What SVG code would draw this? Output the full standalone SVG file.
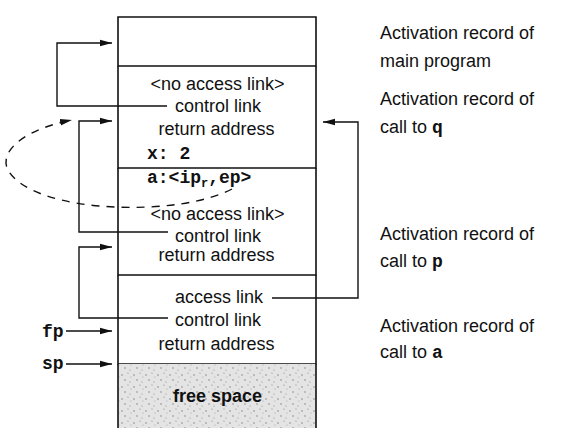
<svg xmlns="http://www.w3.org/2000/svg" width="562" height="440" viewBox="0 0 562 440">
<style>
.box{fill:none;stroke:#111;stroke-width:1.6}
.lbl{font-family:"Liberation Sans",Arial,sans-serif;font-size:18px;fill:#111}
.mid{text-anchor:middle}
.code{font-family:"Liberation Mono","Courier New",monospace;font-weight:bold;font-size:18px;fill:#111}
.con{fill:none;stroke:#111;stroke-width:1.4}
.dash{fill:none;stroke:#111;stroke-width:1.4;stroke-dasharray:8 7}
</style>
<defs>
<marker id="ah" markerUnits="userSpaceOnUse" markerWidth="12" markerHeight="8" refX="12" refY="4" orient="auto">
<path d="M0,0.8 L12,4 L0,7.2 z" fill="#111"/>
</marker>
<pattern id="stip" width="12" height="12" patternUnits="userSpaceOnUse">
<rect width="12" height="12" fill="#e4e4e4"/>
<circle cx="2" cy="3" r="0.7" fill="#777"/>
<circle cx="8" cy="1" r="0.6" fill="#888"/>
<circle cx="5" cy="8" r="0.7" fill="#777"/>
<circle cx="10" cy="10" r="0.6" fill="#888"/>
<circle cx="11" cy="5" r="0.5" fill="#999"/>
</pattern>
</defs>
<rect width="562" height="440" fill="#fff"/>

<g id="main-record">
<path class="box" d="M118,17 H316 V66 H118 Z"/>
<text class="lbl" x="380" y="39">Activation record of</text>
<text class="lbl" x="380" y="67">main program</text>
</g>

<g id="q-record">
<path class="box" d="M118,66 V168 H316 V66"/>
<text class="lbl mid" x="217.5" y="90">&lt;no access link&gt;</text>
<text class="lbl mid" x="218" y="112">control link</text>
<text class="lbl mid" x="216.5" y="135">return address</text>
<text class="code" x="147" y="159">x: 2</text>
<text class="lbl" x="380" y="105">Activation record of</text>
<text class="lbl" x="380" y="133">call to <tspan class="code">q</tspan></text>
</g>

<g id="p-record">
<path class="box" d="M118,168 V275 H316 V168"/>
<text class="code" x="147" y="183">a:&lt;ip<tspan font-size="12" dy="4">r</tspan><tspan dy="-4">,ep&gt;</tspan></text>
<text class="lbl mid" x="217.5" y="220">&lt;no access link&gt;</text>
<text class="lbl mid" x="218" y="242">control link</text>
<text class="lbl mid" x="216.5" y="261">return address</text>
<text class="lbl" x="380" y="240">Activation record of</text>
<text class="lbl" x="380" y="267">call to <tspan class="code">p</tspan></text>
</g>

<g id="a-record">
<path class="box" d="M118,275 V364 H316 V275"/>
<text class="lbl mid" x="219" y="303">access link</text>
<text class="lbl mid" x="218" y="326">control link</text>
<text class="lbl mid" x="216.5" y="350">return address</text>
<text class="lbl" x="380" y="332">Activation record of</text>
<text class="lbl" x="380" y="358">call to <tspan class="code">a</tspan></text>
</g>

<g id="free-space">
<rect x="118" y="364" width="198" height="64" fill="url(#stip)"/>
<path class="box" d="M118,364 V428 M316,364 V428"/>
<text class="lbl mid" x="217.5" y="402" font-weight="bold" font-size="16.5px">free space</text>
</g>

<g id="pointers">
<text class="code" x="42" y="337" font-size="17px">fp</text>
<text class="code" x="42" y="369" font-size="17px">sp</text>
</g>

<g id="connectors">
<path class="con" d="M167,106 H57 V43 H112" marker-end="url(#ah)"/>
<path class="con" d="M168,232 H79 V121 H112" marker-end="url(#ah)"/>
<path class="con" d="M168,318 H79 V247 H112" marker-end="url(#ah)"/>
<path class="con" d="M272,298 H358 V122 H323" marker-end="url(#ah)"/>
<path class="con" d="M66,331 H112" marker-end="url(#ah)"/>
<path class="con" d="M66,364 H112" marker-end="url(#ah)"/>
<path class="dash" d="M232,189 C205,203 160,209 115,207 C65,205 18,192 7,168 C0,148 30,128 72,120" marker-end="url(#ah)"/>
</g>
</svg>
